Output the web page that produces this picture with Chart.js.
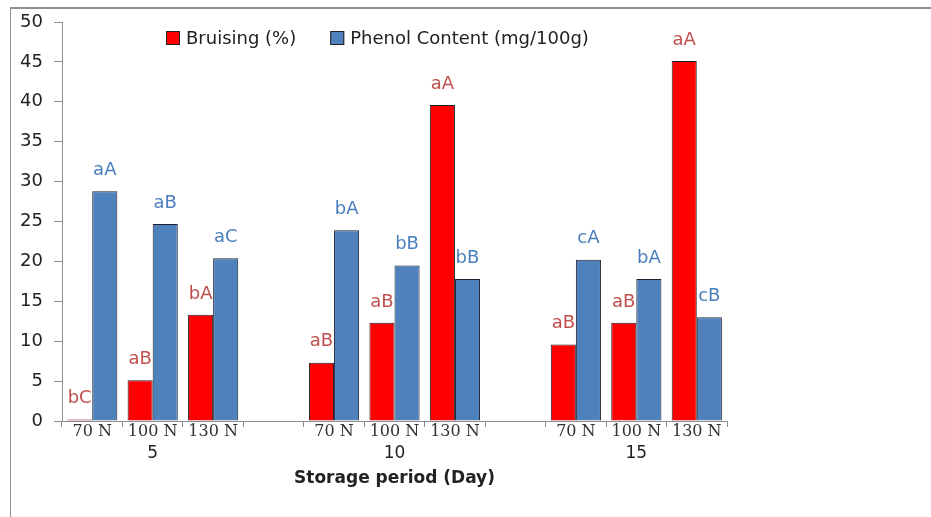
<!DOCTYPE html>
<html>
<head>
<meta charset="utf-8">
<script src="https://cdn.jsdelivr.net/npm/chart.js@4.4.0/dist/chart.umd.min.js"></script>
<style>
  html, body { margin: 0; padding: 0; background: #fff; }
  #wrap { position: relative; width: 931px; height: 517px; overflow: hidden; }
  #frame { position: absolute; left: 10px; top: 7px; right: 0; bottom: 0;
           border-top: 2px solid #8f8f8f; border-left: 1px solid #8f8f8f; pointer-events: none; }
  canvas { position: absolute; left: 0; top: 0; }
</style>
</head>
<body>
<div id="wrap">
  <canvas id="myChart" width="931" height="517"></canvas>
  <div id="frame"></div>
</div>
<script>
// categories (empty slots are the gaps between storage days)
const categories = ['70 N', '100 N', '130 N', '', '70 N', '100 N', '130 N', '', '70 N', '100 N', '130 N'];
const days = ['5', '10', '15'];
const dayMiddle = [1, 5, 9];

const bruising = [0.2, 5.1, 13.3, null, 7.3, 12.3, 39.6, null, 9.6, 12.3, 45.1];
const phenol   = [28.8, 24.7, 20.4, null, 23.9, 19.5, 17.8, null, 20.2, 17.8, 13.0];

const bruisingLetters = ['bC', 'aB', 'bA', '', 'aB', 'aB', 'aA', '', 'aB', 'aB', 'aA'];
const phenolLetters   = ['aA', 'aB', 'aC', '', 'bA', 'bB', 'bB', '', 'cA', 'bA', 'cB'];

const letters = [bruisingLetters, phenolLetters];
const letterColors = ['#c0504d', '#4a7fbd'];

// letters above each bar
const letterLabels = {
  id: 'letterLabels',
  afterDatasetsDraw(chart) {
    const ctx = chart.ctx;
    ctx.save();
    ctx.font = '18px "DejaVu Sans"';
    ctx.textAlign = 'center';
    ctx.textBaseline = 'middle';
    chart.data.datasets.forEach((ds, i) => {
      chart.getDatasetMeta(i).data.forEach((bar, j) => {
        const t = letters[i][j];
        if (!t) return;
        ctx.fillStyle = letterColors[i];
        ctx.fillText(t, bar.x, bar.y - 21);
      });
    });
    ctx.restore();
  }
};

// day numbers under the middle category of each group
const dayLabels = {
  id: 'dayLabels',
  afterDraw(chart) {
    const ctx = chart.ctx, x = chart.scales.x;
    ctx.save();
    ctx.font = '17px "DejaVu Sans"';
    ctx.fillStyle = '#222';
    ctx.textAlign = 'center';
    ctx.textBaseline = 'middle';
    days.forEach((d, k) => ctx.fillText(d, x.getPixelForValue(dayMiddle[k]), 454));
    ctx.restore();
  }
};

// legend drawn inside the plot area
const insideLegend = {
  id: 'insideLegend',
  afterDraw(chart) {
    const ctx = chart.ctx, area = chart.chartArea;
    const box = 14, gap = 6, between = 34;
    ctx.save();
    ctx.font = '18px "DejaVu Sans"';
    let x = area.left + 104;
    const y = 38;
    chart.data.datasets.forEach(ds => {
      ctx.fillStyle = ds.backgroundColor;
      ctx.fillRect(x, y - box / 2, box, box);
      ctx.strokeStyle = '#222';
      ctx.lineWidth = 1;
      ctx.strokeRect(x + 0.5, y - box / 2 + 0.5, box - 1, box - 1);
      ctx.fillStyle = '#222';
      ctx.textBaseline = 'middle';
      ctx.fillText(ds.label, x + box + gap, y + 1);
      x += box + gap + ctx.measureText(ds.label).width + between;
    });
    ctx.restore();
  }
};

const ctx = document.getElementById('myChart');
new Chart(ctx, {
  type: 'bar',
  data: {
    labels: categories,
    datasets: [{
      label: 'Bruising (%)',
      data: bruising,
      backgroundColor: '#ff0000',
      borderColor: '#1f1f2f',
      borderWidth: 1
    }, {
      label: 'Phenol Content (mg/100g)',
      data: phenol,
      backgroundColor: '#4f81bd',
      borderColor: '#1f1f2f',
      borderWidth: 1
    }]
  },
  options: {
    responsive: false,
    animation: false,
    datasets: { bar: { categoryPercentage: 0.83, barPercentage: 1.0 } },
    layout: { padding: { left: 10, top: 22, right: 204, bottom: 25 } },
    plugins: {
      legend: { display: false },
      tooltip: { enabled: false }
    },
    scales: {
      x: {
        afterFit(s) { s.height = 71; },
        grid: { drawOnChartArea: false, color: '#8c8c8c', tickLength: 6 },
        border: { color: '#8c8c8c' },
        ticks: { font: { family: 'DejaVu Serif', size: 16 }, color: '#333', padding: -5, maxRotation: 0, autoSkip: false },
        title: {
          display: true,
          text: 'Storage period (Day)',
          font: { family: 'DejaVu Sans', size: 17, weight: 'bold' },
          color: '#222',
          padding: { top: 4, bottom: 3 }
        }
      },
      y: {
        min: 0,
        max: 50,
        afterFit(s) { s.width = 52; },
        grid: { drawOnChartArea: false, color: '#8c8c8c', tickLength: 8 },
        border: { color: '#8c8c8c' },
        ticks: { stepSize: 5, font: { family: 'DejaVu Sans', size: 18 }, color: '#222', padding: 11 }
      }
    }
  },
  plugins: [letterLabels, dayLabels, insideLegend]
});
</script>
</body>
</html>
